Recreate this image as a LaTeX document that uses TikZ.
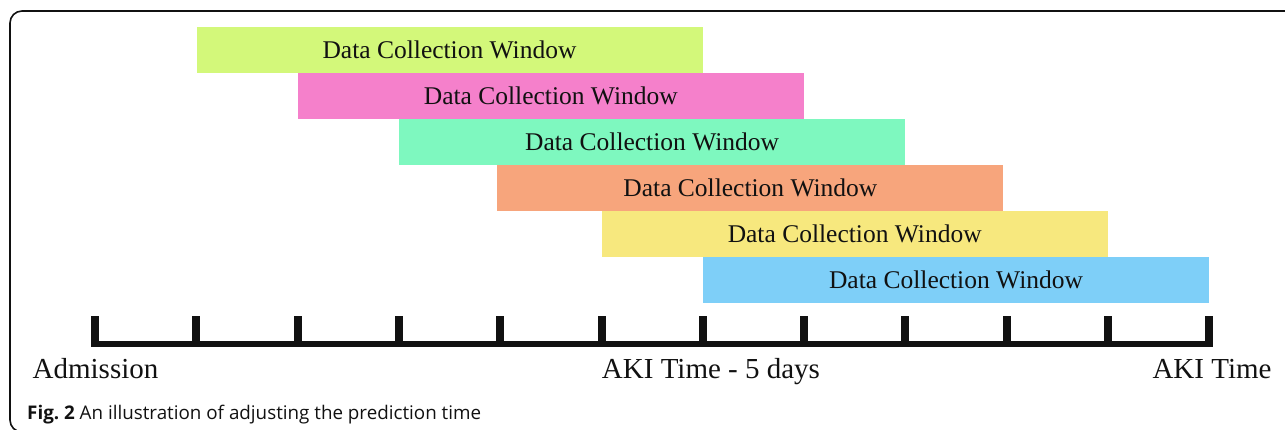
\documentclass[tikz,border=0pt]{standalone}
\usepackage{fontspec}
\setmainfont{Liberation Serif}
\newfontfamily\capfont{Open Sans}
\definecolor{cgreen}{HTML}{D3F87A}
\definecolor{cpink}{HTML}{F580CB}
\definecolor{cmint}{HTML}{7EF8BF}
\definecolor{csalmon}{HTML}{F7A57C}
\definecolor{cyellow}{HTML}{F7E87E}
\definecolor{cblue}{HTML}{7ECFF8}
\definecolor{ink}{HTML}{111111}
\begin{document}
\begin{tikzpicture}[x=1pt,y=-1pt,
  bar/.style={draw=none,inner sep=0pt,minimum width=506pt,minimum height=46pt,anchor=north west,
    font=\fontsize{25.5}{25.5}\selectfont,text=ink},
  tick/.style={line width=8pt,draw=ink},
  axislbl/.style={font=\fontsize{29}{29}\selectfont,text=ink,anchor=base,inner sep=0pt},
  frame/.style={draw=ink,line width=1.6pt,rounded corners=12pt}]
\useasboundingbox (0,0) rectangle (1285,430);
\begin{scope}
\clip (0,0) rectangle (1285,430);
\draw[frame] (10,11) rectangle (1320,432);
\end{scope}
% tick coordinates
\foreach \i in {0,...,11}{
  \coordinate (t\i) at ({95+101.3*\i},344);
  \coordinate (u\i) at ({95+101.3*\i},316);
}
% bars
\node[bar,fill=cgreen] (b1) at ({95+101.3*1},27) {Data Collection Window};
\node[bar,fill=cpink] (b2) at ({95+101.3*2},73) {Data Collection Window};
\node[bar,fill=cmint] (b3) at ({95+101.3*3},119) {Data Collection Window};
\node[bar,fill=csalmon] (b4) at ({95+101.3*4-3},165) {Data Collection Window};
\node[bar,fill=cyellow] (b5) at ({95+101.3*5},211) {Data Collection Window};
\node[bar,fill=cblue] (b6) at ({95+101.3*6},257) {Data Collection Window};
% axis
\draw[ink,line width=6pt] ([xshift=-4pt]t0) -- ([xshift=4pt]t11);
\foreach \i in {0,...,11}{
  \draw[tick] ([yshift=3pt]t\i) -- (u\i);
}
% labels
\node[axislbl] (adm) at (95.5,378) {Admission};
\node[axislbl] (aki5) at (711,378) {AKI Time - 5 days};
\node[axislbl] (aki) at (1212,378) {AKI Time};
% caption
\node[anchor=base west,inner sep=0pt,font=\capfont\fontsize{18.8}{18.8}\selectfont,text=ink] (cap) at (27,419)
  {\textbf{Fig.~2} An illustration of adjusting the prediction time};
\end{tikzpicture}
\end{document}
